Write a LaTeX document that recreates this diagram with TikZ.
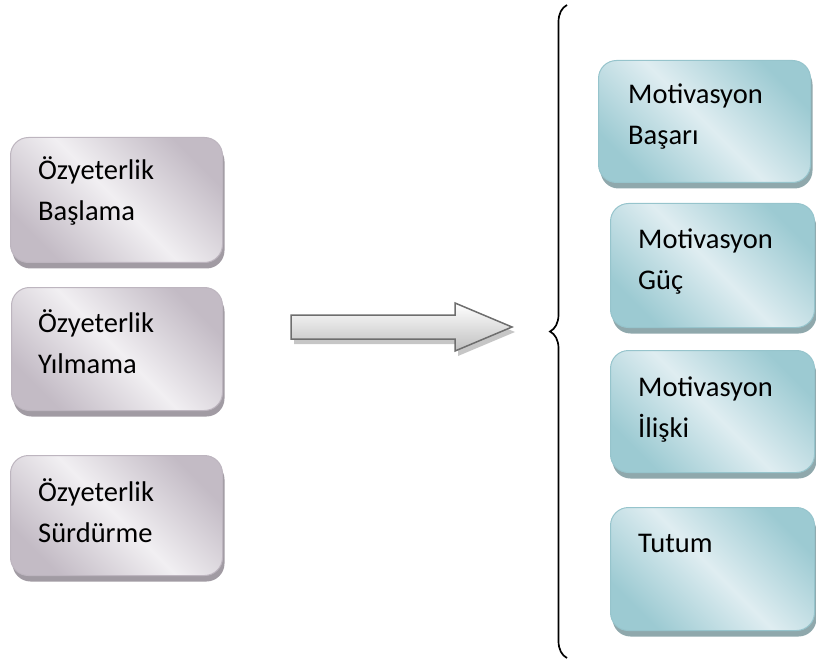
\documentclass[tikz,border=0pt]{standalone}
\usepackage{fontspec}
\setmainfont{Carlito}
\usetikzlibrary{shadows,decorations.pathreplacing,calc}

\definecolor{mauveedge}{HTML}{C3BBC5}
\definecolor{mauvelight}{HTML}{F1EFF2}
\definecolor{mauveline}{HTML}{BDB5BF}
\definecolor{mauveshadow}{HTML}{A19BA3}
\definecolor{tealedge}{HTML}{9CCAD2}
\definecolor{teallight}{HTML}{DFEDF1}
\definecolor{tealline}{HTML}{96C4CC}
\definecolor{tealshadow}{HTML}{8FA8AC}
\definecolor{arrowline}{HTML}{6E6E6E}

\tikzset{
  ozbox/.style={draw=mauveline, line width=1pt, rounded corners=18pt, anchor=north west, inner sep=0pt,
    top color=mauveedge, bottom color=mauveedge, middle color=mauvelight, shading angle=-45,
    drop shadow={shadow xshift=2pt, shadow yshift=-6pt, fill=mauveshadow, opacity=1}},
  motbox/.style={draw=tealline, line width=1pt, rounded corners=18pt, anchor=north west, inner sep=0pt,
    top color=tealedge, bottom color=tealedge, middle color=teallight, shading angle=-45,
    drop shadow={shadow xshift=2pt, shadow yshift=-6pt, fill=tealshadow, opacity=1}},
  boxtext/.style={anchor=base west, align=left, inner sep=0pt, font=\fontsize{28.5}{41}\selectfont},
}

\begin{document}
\begin{tikzpicture}[x=1pt,y=-1pt]
	\useasboundingbox (0,0) rectangle (816,660);
	% left column
	\node[ozbox, minimum width=212pt, minimum height=125pt] (oz1) at (10,137) {};
	\node[ozbox, minimum width=211pt, minimum height=123pt] (oz2) at (11,287) {};
	\node[ozbox, minimum width=212pt, minimum height=120pt] (oz3) at (10,455) {};
	\node[boxtext] (oz1t) at ($(oz1.north west)+(28,84)$) {Özyeterlik\\Başlama};
	\node[boxtext] (oz2t) at ($(oz2.north west)+(27,86)$) {Özyeterlik\\Yılmama};
	\node[boxtext] (oz3t) at ($(oz3.north west)+(28,87)$) {Özyeterlik\\Sürdürme};
	% arrow
	\draw [line width=1.5pt, draw=arrowline, top color=white, bottom color=gray!50,
		drop shadow={shadow xshift=3pt, shadow yshift=-5pt, fill=gray!45, opacity=1}]
		(291,315) -- (455,315) -- (455,303) -- (512,327) -- (455,351) -- (455,339) -- (291,339) -- cycle;
	% brace
	\coordinate (brbot) at (567,658);
	\coordinate (brtop) at (567,5);
	\draw [line width=1.7pt, decorate, decoration={brace, amplitude=17pt}] (brbot) -- (brtop);
	% right column
	\node[motbox, minimum width=212pt, minimum height=122pt] (mot1) at (598,60) {};
	\node[motbox, minimum width=204pt, minimum height=124pt] (mot2) at (610,203) {};
	\node[motbox, minimum width=204pt, minimum height=122pt] (mot3) at (610,350) {};
	\node[motbox, minimum width=204pt, minimum height=123pt] (tut) at (610,507) {};
	\node[boxtext] (mot1t) at ($(mot1.north west)+(30,85)$) {Motivasyon\\Başarı};
	\node[boxtext] (mot2t) at ($(mot2.north west)+(28,87)$) {Motivasyon\\Güç};
	\node[boxtext] (mot3t) at ($(mot3.north west)+(28,87)$) {Motivasyon\\İlişki};
	\node[boxtext] (tutt) at ($(tut.north west)+(28,45)$) {Tutum};
\end{tikzpicture}
\end{document}
